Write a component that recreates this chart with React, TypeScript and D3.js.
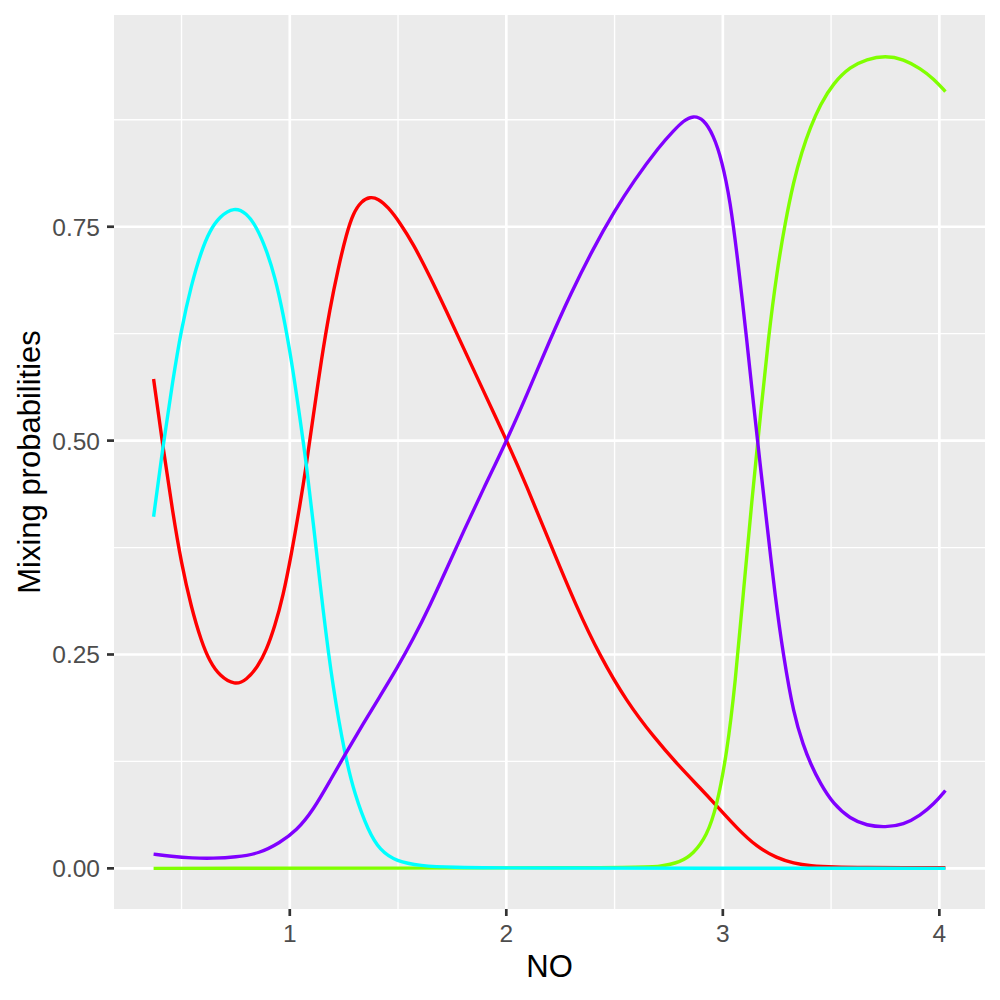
import { scaleLinear, line, curveBasis, extent, max } from "d3";

// mixing probabilities of the four components against NO
const redNO = [0.371, 0.414, 0.46, 0.499, 0.545, 0.592, 0.63, 0.676, 0.746, 0.8, 0.853, 0.892, 0.931, 0.969, 1.008, 1.046, 1.077, 1.108, 1.146, 1.185, 1.223, 1.262, 1.293, 1.331, 1.37, 1.408, 1.454, 1.508, 1.57, 1.647, 1.724, 1.801, 1.878, 2.002, 2.094, 2.202, 2.325, 2.433, 2.556, 2.679, 2.803, 2.895, 2.972, 3.065, 3.157, 3.25, 3.327, 3.404, 3.511, 3.665, 3.835, 4.028];
const redProb = [0.572, 0.493, 0.415, 0.357, 0.305, 0.265, 0.242, 0.225, 0.214, 0.22, 0.236, 0.255, 0.283, 0.318, 0.368, 0.423, 0.472, 0.528, 0.595, 0.654, 0.701, 0.742, 0.766, 0.78, 0.785, 0.783, 0.773, 0.755, 0.73, 0.692, 0.651, 0.609, 0.567, 0.5, 0.447, 0.38, 0.305, 0.248, 0.195, 0.154, 0.118, 0.094, 0.073, 0.047, 0.025, 0.012, 0.006, 0.003, 0.0015, 0.001, 0.0008, 0.0007];

const greenNO = [0.371, 2.6, 2.71, 2.803, 2.864, 2.926, 2.972, 3.019, 3.057, 3.095, 3.134, 3.172, 3.211, 3.25, 3.288, 3.327, 3.365, 3.404, 3.45, 3.511, 3.588, 3.665, 3.75, 3.835, 3.912, 3.974, 4.028];
const greenProb = [0, 0.0005, 0.002, 0.007, 0.017, 0.038, 0.072, 0.135, 0.215, 0.323, 0.43, 0.525, 0.622, 0.698, 0.755, 0.803, 0.838, 0.866, 0.893, 0.918, 0.937, 0.946, 0.95, 0.946, 0.935, 0.923, 0.908];

const cyanNO = [0.371, 0.414, 0.46, 0.499, 0.545, 0.592, 0.63, 0.676, 0.743, 0.8, 0.846, 0.892, 0.931, 0.969, 1.008, 1.046, 1.077, 1.108, 1.154, 1.2, 1.254, 1.3, 1.362, 1.416, 1.493, 1.601, 1.75, 2.0, 4.028];
const cyanProb = [0.411, 0.493, 0.571, 0.63, 0.682, 0.722, 0.745, 0.762, 0.773, 0.766, 0.75, 0.723, 0.692, 0.649, 0.594, 0.528, 0.472, 0.405, 0.3, 0.21, 0.133, 0.086, 0.044, 0.021, 0.008, 0.003, 0.001, 0.0003, 0];

const purpleNO = [0.371, 0.45, 0.55, 0.645, 0.75, 0.861, 0.954, 1.031, 1.108, 1.185, 1.262, 1.339, 1.416, 1.493, 1.57, 1.647, 1.724, 1.801, 1.893, 2.002, 2.094, 2.202, 2.294, 2.402, 2.499, 2.587, 2.71, 2.772, 2.818, 2.864, 2.91, 2.957, 2.995, 3.034, 3.072, 3.111, 3.142, 3.172, 3.203, 3.242, 3.28, 3.327, 3.373, 3.404, 3.45, 3.511, 3.588, 3.665, 3.75, 3.835, 3.912, 3.974, 4.028];
const purpleProb = [0.0167, 0.014, 0.012, 0.0117, 0.013, 0.0175, 0.03, 0.044, 0.068, 0.102, 0.136, 0.169, 0.201, 0.233, 0.268, 0.307, 0.35, 0.393, 0.443, 0.5, 0.553, 0.618, 0.67, 0.725, 0.768, 0.803, 0.845, 0.862, 0.874, 0.88, 0.876, 0.857, 0.828, 0.781, 0.705, 0.617, 0.542, 0.473, 0.404, 0.317, 0.248, 0.18, 0.143, 0.123, 0.099, 0.075, 0.058, 0.05, 0.048, 0.051, 0.062, 0.075, 0.091];

const xBreaks = [1, 2, 3, 4];
const xMinor = [0.5, 1.5, 2.5, 3.5];
const yBreaks = [0, 0.25, 0.5, 0.75];
const yMinor = [0.125, 0.375, 0.625, 0.875];

// drawn in this order, last one on top
const series = [
    { name: "1", color: "#FF0000", xs: redNO, ys: redProb },
    { name: "2", color: "#80FF00", xs: greenNO, ys: greenProb },
    { name: "3", color: "#00FFFF", xs: cyanNO, ys: cyanProb },
    { name: "4", color: "#8000FF", xs: purpleNO, ys: purpleProb },
];

export default function App() {
    const panel = { left: 114, right: 985, top: 15, bottom: 909 };

    // ggplot-style 5% expansion on both axes
    const [x0, x1] = extent(series.flatMap(s => s.xs)) as [number, number];
    const yTop = max(series.flatMap(s => s.ys)) as number;
    const xPad = (x1 - x0) * 0.05;
    const yPad = yTop * 0.05;

    const x = scaleLinear().domain([x0 - xPad, x1 + xPad]).range([panel.left, panel.right]);
    const y = scaleLinear().domain([-yPad, yTop + yPad]).range([panel.bottom, panel.top]);

    const font = "'Liberation Sans', Arial, Helvetica, sans-serif";

    return (
        <svg width={1000} height={1000} style={{ position: "absolute", left: 0, top: 0, background: "white" }}>
            <rect x={panel.left} y={panel.top} width={panel.right - panel.left} height={panel.bottom - panel.top} fill="#EBEBEB" />

            {/* grid */}
            {yMinor.map(v => (
                <line key={`ym${v}`} x1={panel.left} x2={panel.right} y1={y(v)} y2={y(v)} stroke="white" strokeWidth={1.35} />
            ))}
            {xMinor.map(v => (
                <line key={`xm${v}`} x1={x(v)} x2={x(v)} y1={panel.top} y2={panel.bottom} stroke="white" strokeWidth={1.35} />
            ))}
            {yBreaks.map(v => (
                <line key={`y${v}`} x1={panel.left} x2={panel.right} y1={y(v)} y2={y(v)} stroke="white" strokeWidth={2.7} />
            ))}
            {xBreaks.map(v => (
                <line key={`x${v}`} x1={x(v)} x2={x(v)} y1={panel.top} y2={panel.bottom} stroke="white" strokeWidth={2.7} />
            ))}

            {/* curves */}
            {series.map(s => {
                const pts = s.xs.map((v, i) => [v, s.ys[i]] as [number, number]);
                const path = line<[number, number]>()
                    .x(d => x(d[0]))
                    .y(d => y(d[1]))
                    .curve(curveBasis)(pts);
                return <path key={s.name} d={path ?? ""} fill="none" stroke={s.color} strokeWidth={3.4} strokeLinejoin="round" />;
            })}

            {/* y axis */}
            {yBreaks.map(v => (
                <g key={`yt${v}`}>
                    <line x1={panel.left - 7} x2={panel.left} y1={y(v)} y2={y(v)} stroke="#333333" strokeWidth={2.7} />
                    <text x={panel.left - 14} y={y(v) + 9} textAnchor="end" fontSize={24.5} fill="#4D4D4D" fontFamily={font}>
                        {v.toFixed(2)}
                    </text>
                </g>
            ))}

            {/* x axis */}
            {xBreaks.map(v => (
                <g key={`xt${v}`}>
                    <line x1={x(v)} x2={x(v)} y1={panel.bottom} y2={panel.bottom + 7} stroke="#333333" strokeWidth={2.7} />
                    <text x={x(v)} y={panel.bottom + 33} textAnchor="middle" fontSize={24.5} fill="#4D4D4D" fontFamily={font}>
                        {v}
                    </text>
                </g>
            ))}

            <text x={(panel.left + panel.right) / 2} y={977} textAnchor="middle" fontSize={31} fill="black" fontFamily={font}>
                NO
            </text>
            <text
                transform={`translate(40, ${(panel.top + panel.bottom) / 2}) rotate(-90)`}
                textAnchor="middle"
                fontSize={31}
                fill="black"
                fontFamily={font}
            >
                Mixing probabilities
            </text>
        </svg>
    );
}
